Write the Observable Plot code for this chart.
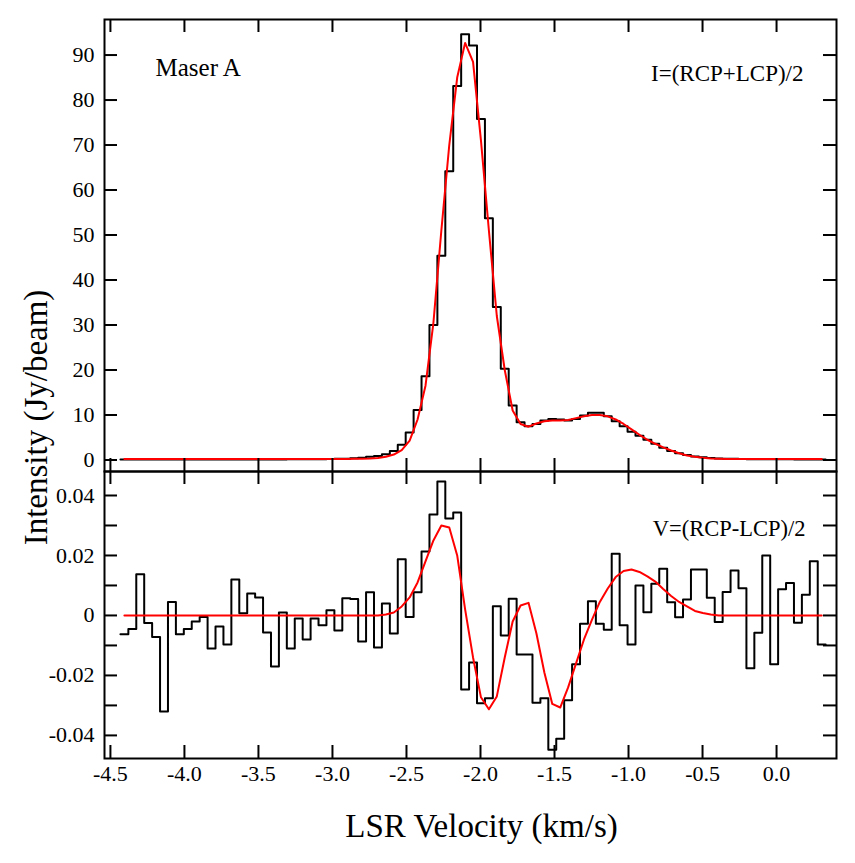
<!DOCTYPE html>
<html>
<head>
<meta charset="utf-8">
<script src="https://cdn.jsdelivr.net/npm/d3@7"></script>
<script src="https://cdn.jsdelivr.net/npm/@observablehq/plot@0.6"></script>
<style>
  body { margin: 0; background: #fff; }
  #chart { position: relative; width: 855px; height: 863px; background: #fff; }
  #p1, #p2 { position: absolute; left: 0; }
  #p1 { top: 0; z-index: 2; }
  #p2 { top: 466px; z-index: 1; }
  #chart svg, #chart svg text { font-family: "Liberation Serif", "DejaVu Serif", "Times New Roman", serif !important; }
</style>
</head>
<body>
<div id="chart"><div id="p1"></div><div id="p2"></div></div>
<script>
// ---------- data ----------
const channelStart = -4.4324;   // left edge of first channel (km/s)
const channelWidth = 0.05353;   // channel width (km/s)

// Stokes I (Jy/beam), one value per channel
const stokesI = [
  0.1,0.1,0.1,0.1,0.1,0.1,0.1,0.1,0.1,0.1,
  0.1,0.1,0.1,0.1,0.1,0.1,0.1,0.1,0.1,0.1,
  0.1,0.15,0.15,0.15,0.15,0.15,0.2,0.25,0.3,0.4,
  0.5,0.7,0.9,1.3,2.0,3.4,6.1,11.1,18.6,30.0,
  45.4,64.2,83.1,94.6,92.1,75.8,53.7,34.0,20.3,12.1,
  8.4,7.5,8.0,8.8,9.1,9.0,8.8,9.1,9.9,10.5,
  10.5,9.7,8.6,7.5,6.3,5.4,4.5,3.6,2.7,2.0,
  1.5,1.1,0.8,0.6,0.45,0.35,0.3,0.25,0.2,0.15,
  0.15,0.15,0.15,0.15,0.15,0.1,0.1,0.1,0.1
];
// Stokes I model fit, at channel centres
const fitI = [
  0.2,0.2,0.2,0.2,0.2,0.2,0.2,0.2,0.2,0.2,
  0.2,0.2,0.2,0.2,0.2,0.2,0.2,0.2,0.2,0.2,
  0.2,0.2,0.2,0.2,0.2,0.2,0.2,0.2,0.2,0.25,
  0.3,0.35,0.45,0.7,1.2,2.2,4.3,9.0,16.5,30.5,
  51,70,85,92.7,88.5,71,51,32,20,11,
  8.0,7.4,8.1,8.6,8.8,8.8,8.9,9.3,9.7,10.0,
  10.0,9.7,9.0,8.0,6.8,5.6,4.5,3.6,2.8,2.1,
  1.5,1.0,0.7,0.5,0.35,0.28,0.2,0.2,0.2,0.2,
  0.2,0.2,0.2,0.2,0.2,0.2,0.2,0.2,0.2
];
// Stokes V (Jy/beam), one value per channel
const stokesV = [
  -0.0063,-0.0045,0.0137,-0.0025,-0.0072,-0.032,0.0045,-0.0063,-0.0045,-0.002,
  -0.0005,-0.011,-0.0037,-0.0097,0.012,0.0007,0.0073,0.006,-0.0057,-0.017,
  0.001,-0.011,-0.001,-0.008,-0.001,-0.0033,0.0017,-0.005,0.0057,0.0055,
  -0.0087,0.0077,-0.0107,0.004,-0.006,0.0187,-0.0005,0.0077,0.0213,0.0337,
  0.0447,0.0323,0.0343,-0.0247,-0.0157,-0.0293,-0.0276,0.0031,-0.0067,0.0056,
  -0.013,-0.013,-0.0291,-0.0276,-0.0448,-0.0411,-0.0283,-0.0163,-0.0028,0.0047,
  -0.0028,-0.0048,0.0206,-0.0033,-0.0097,0.01,0.0011,0.0106,0.0156,0.0044,
  -0.0006,0.0053,0.0153,0.0153,0.0059,-0.0022,0.0078,0.015,0.0091,-0.0176,
  -0.0058,0.02,-0.0163,0.0087,0.0108,-0.0024,0.0069,0.0181,-0.0097
];
// Stokes V model fit, at channel centres
const fitV = [
  0,0,0,0,0,0,0,0,0,0,
  0,0,0,0,0,0,0,0,0,0,
  0,0,0,0,0,0,0,0,0,0,
  0,0,0,0.0003,0.001,0.003,0.006,0.011,0.018,0.025,
  0.030,0.0293,0.020,0.002,-0.014,-0.0273,-0.0313,-0.027,-0.014,-0.002,
  0.0033,0.0042,-0.006,-0.019,-0.0295,-0.0307,-0.024,-0.016,-0.008,-0.0015,
  0.0045,0.009,0.0128,0.0148,0.0153,0.0145,0.013,0.0113,0.0088,0.0065,
  0.0045,0.003,0.0015,0.0008,0.0003,0,0,0,0,0,
  0,0,0,0,0,0,0,0,0
];

const xTicks = [-4.5,-4.0,-3.5,-3.0,-2.5,-2.0,-1.5,-1.0,-0.5,0.0];
const iTicks = [0,10,20,30,40,50,60,70,80,90];
const vTicks = [-0.04,-0.03,-0.02,-0.01,0,0.01,0.02,0.03,0.04];
const vTickLabels = [-0.04,-0.02,0,0.02,0.04];

const xDomain = [-4.54, 0.405];
const iDomain = [-2.56, 97.9];
const vDomain = [-0.0477, 0.048];

const panelLabelI = "I=(RCP+LCP)/2";
const panelLabelV = "V=(RCP-LCP)/2";
const sourceLabel = "Maser A";
const xLabel = "LSR Velocity (km/s)";
const yLabel = "Intensity (Jy/beam)";

// ---------- tables ----------
const nChan = stokesI.length;
const edges = d3.range(nChan + 1).map(i => channelStart + i * channelWidth);
const centers = d3.range(nChan).map(i => channelStart + (i + 0.5) * channelWidth);
const stepRows = vals => edges.map((x, i) => ({x, y: vals[Math.min(i, vals.length - 1)]}));
const fitRows = vals => centers.map((x, i) => ({x, y: vals[i]}));

// ---------- layout ----------
const font = "Liberation Serif, DejaVu Serif, Times New Roman, serif";
const W = 855, mL = 104, mR = 19;
const FW = W - mL - mR;             // frame width
const tick = 13;
const H1 = 471, mT1 = 19;           // panel 1
const FH1 = H1 - mT1;
const H2 = 397, mT2 = 5, mB2 = 105; // panel 2
const FH2 = H2 - mT2 - mB2;

function inwardTicks(fh, yv) {
  return [
    Plot.tickX(xTicks, {x: d => d, insetBottom: fh - tick, stroke: "black", strokeWidth: 2}),
    Plot.tickX(xTicks, {x: d => d, insetTop: fh - tick, stroke: "black", strokeWidth: 2}),
    Plot.tickY(yv, {y: d => d, insetRight: FW - tick, stroke: "black", strokeWidth: 2}),
    Plot.tickY(yv, {y: d => d, insetLeft: FW - tick, stroke: "black", strokeWidth: 2})
  ];
}

const p1 = Plot.plot({
  width: W, height: H1,
  marginTop: mT1, marginBottom: 0, marginLeft: mL, marginRight: mR,
  style: {fontFamily: font, fontSize: "22px", background: "transparent", overflow: "visible", color: "black"},
  x: {domain: xDomain, axis: null},
  y: {domain: iDomain},
  marks: [
    Plot.line(stepRows(stokesI), {x: "x", y: "y", curve: "step-after", stroke: "black", strokeWidth: 2}),
    Plot.line(fitRows(fitI), {x: "x", y: "y", stroke: "#ff0000", strokeWidth: 2}),
    ...inwardTicks(FH1, iTicks),
    Plot.axisY(iTicks, {tickSize: 0, tickPadding: 10, label: null, fontSize: 22, fontFamily: font, tickFormat: d => String(d)}),
    Plot.frame({stroke: "black", strokeWidth: 2}),
    Plot.text([sourceLabel], {text: d => d, frameAnchor: "top-left", textAnchor: "start", lineAnchor: "bottom", dx: 51, dy: 56, fontSize: 25, fontFamily: font}),
    Plot.text([panelLabelI], {text: d => d, frameAnchor: "top-right", textAnchor: "end", lineAnchor: "bottom", dx: -33, dy: 61, fontSize: 23, fontFamily: font}),
    Plot.text([yLabel], {text: d => d, frameAnchor: "left", rotate: -90, textAnchor: "middle", lineAnchor: "bottom", dx: -58, dy: 172, fontSize: 33, fontFamily: font})
  ]
});

const p2 = Plot.plot({
  width: W, height: H2,
  marginTop: mT2, marginBottom: mB2, marginLeft: mL, marginRight: mR,
  style: {fontFamily: font, fontSize: "22px", background: "transparent", overflow: "visible", color: "black"},
  x: {domain: xDomain},
  y: {domain: vDomain},
  marks: [
    Plot.line(stepRows(stokesV), {x: "x", y: "y", curve: "step-after", stroke: "black", strokeWidth: 2}),
    Plot.line(fitRows(fitV), {x: "x", y: "y", stroke: "#ff0000", strokeWidth: 2}),
    ...inwardTicks(FH2, vTicks),
    Plot.axisY(vTickLabels, {tickSize: 0, tickPadding: 10, label: null, fontSize: 22, fontFamily: font, tickFormat: d => d === 0 ? "0" : d.toFixed(2)}),
    Plot.axisX(xTicks, {tickSize: 0, tickPadding: 7, label: null, fontSize: 22, fontFamily: font, tickFormat: d => d.toFixed(1)}),
    Plot.frame({stroke: "black", strokeWidth: 2}),
    Plot.text([panelLabelV], {text: d => d, frameAnchor: "top-right", textAnchor: "end", lineAnchor: "bottom", dx: -31, dy: 64, fontSize: 22.5, fontFamily: font}),
    Plot.text([xLabel], {text: d => d, frameAnchor: "bottom", textAnchor: "middle", lineAnchor: "bottom", dx: 11, dy: 78, fontSize: 33, fontFamily: font})
  ]
});

document.getElementById("p1").appendChild(p1);
document.getElementById("p2").appendChild(p2);
</script>
</body>
</html>
